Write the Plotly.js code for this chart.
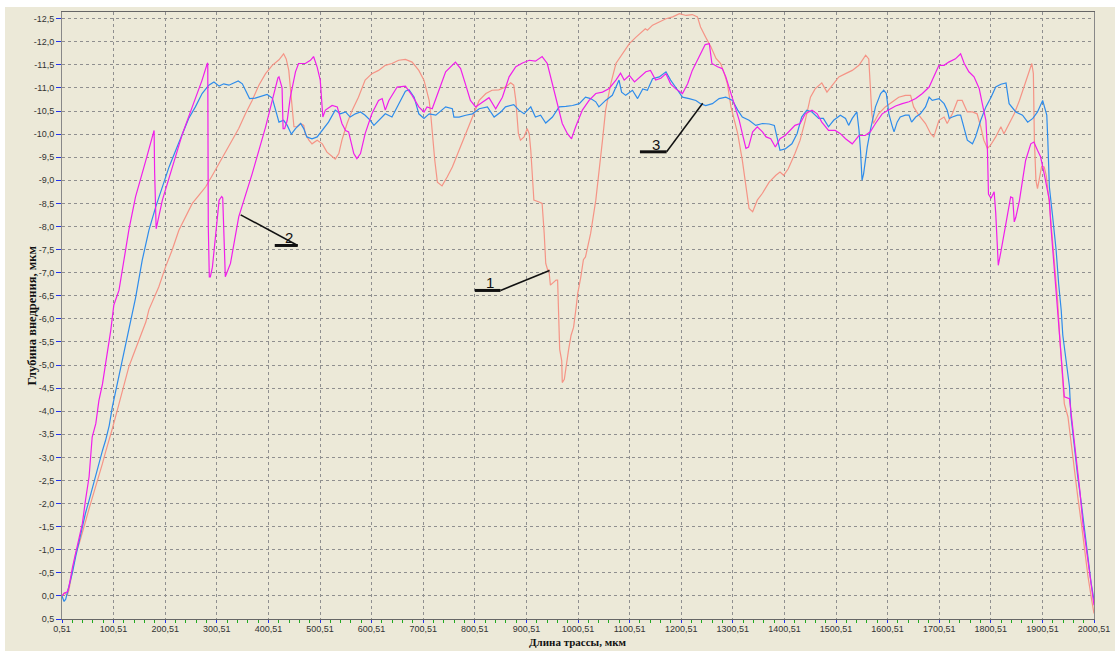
<!DOCTYPE html>
<html>
<head>
<meta charset="utf-8">
<script src="https://cdn.plot.ly/plotly-3.0.1.min.js"></script>
<style>
html,body{margin:0;padding:0;background:#ffffff;}
#chart{position:absolute;left:5px;top:7px;width:1110px;height:644px;}
</style>
</head>
<body>
<div id="chart"></div>
<script>
// Curve 1 (salmon)
const x1 = [0.51,5,11,14,21,27,34,40,46,53,59,66,72,79,85,92,98,105,111,117,124,130,137,143,150,156,163,169,179,188,201,214,227,240,253,266,279,292,305,317,330,343,356,369,382,395,408,421,430,435,440,443,446,450,456,463,469,472,479,485,495,505,514,524,530,537,543,553,563,575,588,601,614,627,640,653,666,679,692,702,712,715,718,723,728,737,747,757,770,783,796,809,822,834,847,860,870,876,880,885,889,896,902,906,909,912,915,925,931,935,938,942,944,947,954,958,961,963,965,969,970,974,977,982,987,992,997,1000,1006,1011,1015,1025,1035,1041,1048,1054,1064,1074,1087,1100,1113,1122,1131,1135,1145,1158,1171,1184,1197,1210,1222,1232,1238,1248,1258,1268,1277,1284,1290,1297,1303,1310,1319,1326,1332,1339,1348,1358,1371,1384,1392,1399,1408,1421,1431,1441,1451,1460,1473,1483,1493,1506,1519,1532,1545,1554,1558,1564,1567,1570,1573,1583,1596,1609,1622,1635,1645,1651,1661,1674,1684,1690,1700,1710,1716,1726,1736,1745,1755,1765,1774,1781,1787,1794,1800,1810,1820,1826,1836,1846,1856,1865,1874,1880,1883,1885,1888,1891,1894,1899,1904,1908,1914,1919,1923,1927,1930,1934,1940,1943,1950,1956,1963,1969,1976,1982,1989,1995,2000.51];
const y1 = [0,-0.06,-0.02,-0.13,-0.56,-0.92,-1.14,-1.35,-1.61,-1.89,-2.11,-2.36,-2.61,-2.87,-3.12,-3.37,-3.62,-3.91,-4.16,-4.45,-4.70,-4.96,-5.17,-5.35,-5.57,-5.75,-5.93,-6.2,-6.45,-6.69,-7.12,-7.49,-7.92,-8.21,-8.50,-8.68,-8.86,-9.11,-9.36,-9.61,-9.87,-10.12,-10.44,-10.73,-11.06,-11.31,-11.49,-11.61,-11.74,-11.63,-11.38,-11.02,-10.52,-10.16,-10.16,-10.23,-10.19,-10.01,-9.87,-9.79,-9.87,-9.79,-9.61,-9.51,-9.46,-9.58,-9.87,-10.23,-10.52,-10.80,-11.17,-11.31,-11.38,-11.49,-11.53,-11.60,-11.62,-11.56,-11.38,-11.17,-10.73,-10.44,-10.01,-9.43,-8.96,-8.88,-9.07,-9.29,-9.65,-10.01,-10.37,-10.73,-10.88,-10.95,-10.96,-11.02,-11.11,-11.06,-10.73,-10.01,-9.87,-9.94,-10.12,-10.01,-9.65,-9.07,-8.57,-8.53,-8.50,-7.85,-7.20,-7.05,-7.07,-6.73,-6.80,-6.84,-6.84,-5.96,-5.34,-5.09,-4.62,-4.69,-4.94,-5.31,-5.64,-5.82,-6.26,-6.55,-6.91,-7.28,-7.34,-7.85,-8.57,-9.14,-9.87,-10.52,-11.09,-11.53,-11.74,-11.96,-12.10,-12.18,-12.28,-12.25,-12.36,-12.43,-12.50,-12.54,-12.61,-12.57,-12.59,-12.54,-12.32,-12.10,-11.89,-11.64,-11.53,-11.31,-11.09,-10.59,-10.30,-10.01,-9.43,-8.86,-8.39,-8.32,-8.57,-8.72,-8.96,-9.11,-9.18,-9.11,-9.25,-9.58,-9.87,-10.30,-10.80,-10.98,-11.11,-10.91,-11.06,-11.24,-11.31,-11.38,-11.49,-11.63,-11.71,-11.63,-11.09,-10.44,-10.23,-10.44,-10.59,-10.70,-10.80,-10.84,-10.84,-10.59,-10.41,-10.23,-10.01,-9.94,-10.30,-10.37,-10.23,-10.44,-10.73,-10.73,-10.48,-10.48,-10.44,-10.16,-9.87,-9.69,-9.76,-9.94,-10.16,-10.01,-10.23,-10.44,-10.73,-11.02,-11.35,-11.53,-11.31,-9.87,-9.0,-8.82,-9.0,-9.3,-9.29,-9.1,-8.5,-7.8,-7.2,-6.62,-6.40,-5.61,-4.74,-4.16,-3.88,-3.30,-2.72,-2.15,-1.57,-0.99,-0.41,0.02,0.38];

// Curve 2 (magenta)
const x2 = [0.51,4.5,11,14,21,27,34,40,46,53,59,66,72,79,85,92,95,101,111,130,143,163,177,179,180,182,183,195,214,234,253,272,282,283,284,286,288,292,305,310,312,317,327,343,369,395,408,419,421,427,429,432,437,443,453,459,472,482,488,495,501,506,511,524,534,543,550,556,566,572,579,588,601,614,621,627,634,650,666,679,692,702,708,718,731,744,763,773,783,792,802,815,828,841,854,867,880,893,906,918,931,941,951,961,970,980,988,996,1009,1022,1035,1048,1061,1074,1083,1090,1100,1110,1119,1132,1141,1151,1161,1171,1180,1190,1203,1213,1222,1235,1247,1255,1260,1271,1280,1287,1293,1300,1306,1313,1319,1326,1331,1339,1348,1358,1365,1374,1383,1392,1402,1412,1421,1431,1441,1454,1464,1473,1486,1499,1509,1519,1532,1538,1545,1557,1567,1577,1590,1603,1616,1629,1642,1655,1668,1681,1690,1700,1710,1719,1732,1742,1749,1758,1768,1778,1784,1791,1794,1796,1801,1807,1810,1812,1815,1820,1830,1839,1843,1846,1849,1856,1862,1868,1878,1884,1891,1897,1904,1907,1914,1917,1921,1927,1934,1940,1943,1953,1960,1966,1973,1979,1986,1992,2000.51];
const y2 = [0,-0.06,-0.09,-0.2,-0.63,-0.92,-1.21,-1.57,-2.07,-2.58,-3.44,-3.73,-4.23,-4.59,-5.03,-5.53,-5.75,-6.3,-6.62,-7.92,-8.64,-9.43,-10.05,-10.08,-9.18,-7.99,-7.95,-8.57,-9.29,-10.01,-10.59,-11.17,-11.53,-11.54,-8.0,-6.91,-6.91,-7.12,-8.57,-8.65,-8.62,-6.91,-7.20,-8.21,-9.14,-10.15,-10.73,-11.22,-11.24,-11.0,-10.12,-10.12,-10.3,-10.80,-11.35,-11.53,-11.53,-11.6,-11.68,-11.45,-11.17,-10.37,-10.52,-10.62,-10.59,-10.23,-10.08,-10.05,-9.58,-9.47,-9.58,-10.01,-10.44,-10.73,-10.77,-10.52,-10.73,-11.02,-11.04,-10.84,-10.59,-10.48,-10.59,-10.55,-10.95,-11.35,-11.56,-11.42,-11.06,-10.73,-10.59,-10.70,-10.79,-10.55,-10.80,-11.24,-11.46,-11.54,-11.60,-11.58,-11.68,-11.53,-11.09,-10.59,-10.23,-10.01,-9.90,-10.16,-10.52,-10.73,-10.88,-10.91,-10.99,-11.17,-11.32,-11.17,-11.27,-11.13,-11.22,-11.35,-11.38,-11.17,-11.21,-11.31,-11.09,-10.98,-10.88,-11.09,-11.38,-11.67,-11.94,-11.96,-11.53,-11.46,-11.42,-11.24,-11.02,-10.73,-10.52,-10.30,-10.01,-9.69,-9.72,-10.05,-10.16,-10.05,-9.94,-9.90,-9.72,-9.90,-9.97,-10.08,-10.19,-10.23,-10.44,-10.52,-10.44,-10.26,-10.08,-10.08,-10.01,-9.90,-9.79,-9.87,-9.97,-9.97,-10.05,-10.23,-10.44,-10.53,-10.61,-10.66,-10.70,-10.77,-10.88,-11.02,-11.24,-11.49,-11.49,-11.56,-11.63,-11.74,-11.53,-11.35,-11.24,-10.99,-10.66,-10.30,-9.65,-8.7,-8.61,-8.75,-8.3,-7.85,-7.16,-7.45,-8.1,-8.64,-8.62,-8.10,-8.2,-8.56,-9.0,-9.43,-9.79,-9.83,-9.65,-9.51,-9.14,-8.96,-8.57,-8.0,-7.5,-6.6,-5.61,-4.74,-4.31,-4.27,-3.59,-3.01,-2.29,-1.57,-0.99,-0.41,0.2];

// Curve 3 (blue)
const x3 = [0.51,4.5,7.7,14,21,27,34,40,46,53,59,66,72,79,85,92,98,105,111,117,124,130,137,143,156,169,182,195,208,221,234,246,259,272,285,295,305,314,324,334,342,350,356,364,375,388,398,408,414,421,430,437,445,453,463,469,475,485,495,505,517,530,540,550,559,569,579,588,598,605,614,627,640,653,666,673,683,692,702,712,725,744,757,760,770,783,796,809,825,838,851,860,876,886,896,909,918,928,938,951,964,977,990,1003,1015,1025,1035,1041,1054,1067,1080,1085,1093,1106,1116,1126,1135,1145,1158,1171,1180,1190,1203,1216,1229,1238,1248,1261,1274,1287,1300,1310,1319,1332,1345,1358,1371,1381,1386,1392,1402,1415,1425,1434,1444,1454,1467,1476,1486,1496,1509,1519,1525,1532,1541,1545,1548,1551,1554,1561,1567,1577,1587,1593,1598,1603,1609,1613,1619,1625,1635,1642,1647,1655,1664,1674,1681,1687,1700,1710,1716,1720,1726,1736,1742,1749,1755,1765,1771,1781,1791,1801,1810,1820,1830,1836,1849,1862,1872,1882,1891,1901,1909,1911,1914,1920,1927,1932,1937,1940,1947,1953,1956,1963,1969,1976,1982,1989,1995,2000.51];
const y3 = [0,0.12,0.07,-0.2,-0.52,-0.85,-1.21,-1.5,-1.79,-2.07,-2.33,-2.58,-2.87,-3.15,-3.37,-3.69,-4.09,-4.45,-4.81,-5.14,-5.46,-5.8,-6.11,-6.45,-7.27,-7.92,-8.42,-8.86,-9.29,-9.65,-10.01,-10.34,-10.59,-10.88,-11.06,-11.13,-11.04,-11.09,-11.06,-11.11,-11.15,-11.09,-10.95,-10.77,-10.78,-10.82,-10.86,-10.78,-10.52,-10.26,-10.30,-10.19,-10.0,-10.12,-10.23,-10.12,-9.94,-9.90,-9.94,-10.08,-10.26,-10.52,-10.44,-10.48,-10.37,-10.44,-10.48,-10.41,-10.30,-10.19,-10.30,-10.44,-10.37,-10.66,-10.93,-10.96,-10.80,-10.44,-10.34,-10.44,-10.41,-10.59,-10.55,-10.37,-10.37,-10.41,-10.44,-10.55,-10.59,-10.37,-10.48,-10.59,-10.64,-10.52,-10.44,-10.59,-10.37,-10.41,-10.24,-10.37,-10.59,-10.60,-10.62,-10.66,-10.80,-10.77,-10.70,-10.59,-10.73,-10.84,-11.17,-10.91,-10.84,-10.95,-10.77,-10.98,-10.95,-11.20,-11.24,-11.35,-11.17,-11.01,-10.80,-10.77,-10.73,-10.66,-10.62,-10.66,-10.77,-10.80,-10.73,-10.52,-10.37,-10.30,-10.19,-10.23,-10.22,-10.19,-9.97,-9.65,-9.68,-9.79,-10.01,-10.37,-10.52,-10.48,-10.34,-10.34,-10.16,-10.30,-10.41,-10.34,-10.19,-10.34,-10.48,-10.09,-9.65,-9.0,-9.14,-9.72,-10.08,-10.59,-10.88,-10.95,-10.88,-10.44,-10.19,-10.05,-10.26,-10.37,-10.41,-10.41,-10.26,-10.37,-10.44,-10.59,-10.80,-10.73,-10.77,-10.66,-10.52,-10.34,-10.37,-10.41,-10.41,-10.09,-9.87,-9.79,-9.94,-10.30,-10.59,-10.80,-11.02,-11.08,-11.11,-10.66,-10.48,-10.41,-10.26,-10.34,-10.48,-10.73,-10.41,-9.87,-8.86,-8.25,-7.5,-6.76,-6.18,-5.65,-5.03,-4.53,-3.88,-3.16,-2.58,-2.0,-1.43,-0.78,-0.27,0.09];

// Axis ticks
const xTickVals = [0.51,100.51,200.51,300.51,400.51,500.51,600.51,700.51,800.51,900.51,1000.51,1100.51,1200.51,1300.51,1400.51,1500.51,1600.51,1700.51,1800.51,1900.51,2000.51];
const xTickText = ["0,51","100,51","200,51","300,51","400,51","500,51","600,51","700,51","800,51","900,51","1000,51","1100,51","1200,51","1300,51","1400,51","1500,51","1600,51","1700,51","1800,51","1900,51","2000,51"];
const yTickVals = [-12.5,-12,-11.5,-11,-10.5,-10,-9.5,-9,-8.5,-8,-7.5,-7,-6.5,-6,-5.5,-5,-4.5,-4,-3.5,-3,-2.5,-2,-1.5,-1,-0.5,0,0.5];
const yTickText = ["-12,5","-12,0","-11,5","-11,0","-10,5","-10,0","-9,5","-9,0","-8,5","-8,0","-7,5","-7,0","-6,5","-6,0","-5,5","-5,0","-4,5","-4,0","-3,5","-3,0","-2,5","-2,0","-1,5","-1,0","-0,5","0,0","0,5"];

// Curve labels: underline from X0 to X1 at Y, leader to (leaderX, leaderY)
const labelNames = ["1","2","3"];
const labelLineX0 = [800.5, 412.8, 1120.5];
const labelLineX1 = [850.4, 457.3, 1172.3];
const labelLineY = [-6.615, -7.589, -9.617];
const leaderX = [945.4, 346.8, 1242.2];
const leaderY = [-7.047, -8.253, -10.67];

const bg = '#ECE9D8';
const lineW = 1.2;
const traces = [
  {x: x1, y: y1, type: 'scatter', mode: 'lines', name: '1', line: {color: '#F59486', width: lineW}},
  {x: x3, y: y3, type: 'scatter', mode: 'lines', name: '3', line: {color: '#2E8CEB', width: lineW}},
  {x: x2, y: y2, type: 'scatter', mode: 'lines', name: '2', line: {color: '#F01EEB', width: lineW}}
];

const shapes = [];
const annotations = [];
for (let i = 0; i < labelNames.length; i++) {
  shapes.push({type: 'line', xref: 'x', yref: 'y', x0: labelLineX0[i], x1: labelLineX1[i], y0: labelLineY[i], y1: labelLineY[i], line: {color: '#111', width: 3}});
  shapes.push({type: 'line', xref: 'x', yref: 'y', x0: labelLineX1[i], x1: leaderX[i], y0: labelLineY[i], y1: leaderY[i], line: {color: '#111', width: 1.5}});
  annotations.push({x: (labelLineX0[i] + labelLineX1[i]) / 2 + 5, y: labelLineY[i], xref: 'x', yref: 'y', text: labelNames[i], showarrow: false, yanchor: 'bottom', yshift: -3, font: {family: 'Liberation Sans, Arial, sans-serif', size: 15, color: '#111'}});
}
annotations.push({xref: 'paper', yref: 'paper', x: 0, y: 0.5, xanchor: 'center', yanchor: 'middle', xshift: -31, textangle: -90, showarrow: false, text: 'Глубина внедрения, мкм', font: {family: 'Liberation Serif, Times New Roman, serif', size: 12.5, color: '#111', weight: 'bold'}});
annotations.push({xref: 'paper', yref: 'paper', x: 0.5, y: 0, xanchor: 'center', yshift: -23, yanchor: 'middle', showarrow: false, text: 'Длина трассы, мкм', font: {family: 'Liberation Serif, Times New Roman, serif', size: 11, color: '#111', weight: 'bold'}});

const tickFont = {family: 'Liberation Sans, Arial, sans-serif', size: 9, color: '#333'};
const layout = {
  width: 1110, height: 644,
  paper_bgcolor: bg, plot_bgcolor: bg,
  margin: {l: 57.4, r: 21.2, t: 5.3, b: 31.6},
  showlegend: false,
  xaxis: {
    range: [0.51, 2000.51], tickmode: 'array', tickvals: xTickVals, ticktext: xTickText,
    ticks: 'outside', ticklen: 3, tickcolor: '#2233EE', tickwidth: 1, ticklabelstandoff: -2,
    minor: {dtick: 20, tick0: 0.51, ticks: 'outside', ticklen: 3, tickcolor: '#22AA22', showgrid: false},
    showgrid: true, gridcolor: '#8F8F8F', griddash: '3px,3px', gridwidth: 1,
    showline: true, mirror: true, linecolor: '#666', linewidth: 1,
    zeroline: false, tickfont: tickFont, title: {text: ''}, fixedrange: true
  },
  yaxis: {
    range: [0.5, -12.645], tickmode: 'array', tickvals: yTickVals, ticktext: yTickText,
    ticks: 'outside', ticklen: 5, tickcolor: '#2233EE', tickwidth: 1,
    showgrid: true, gridcolor: '#8F8F8F', griddash: '3px,3px', gridwidth: 1,
    showline: true, mirror: true, linecolor: '#888', linewidth: 1,
    zeroline: false, tickfont: tickFont, title: {text: ''}, fixedrange: true
  },
  shapes: shapes,
  annotations: annotations
};
Plotly.newPlot('chart', traces, layout, {displayModeBar: false, staticPlot: true});
</script>
</body>
</html>
